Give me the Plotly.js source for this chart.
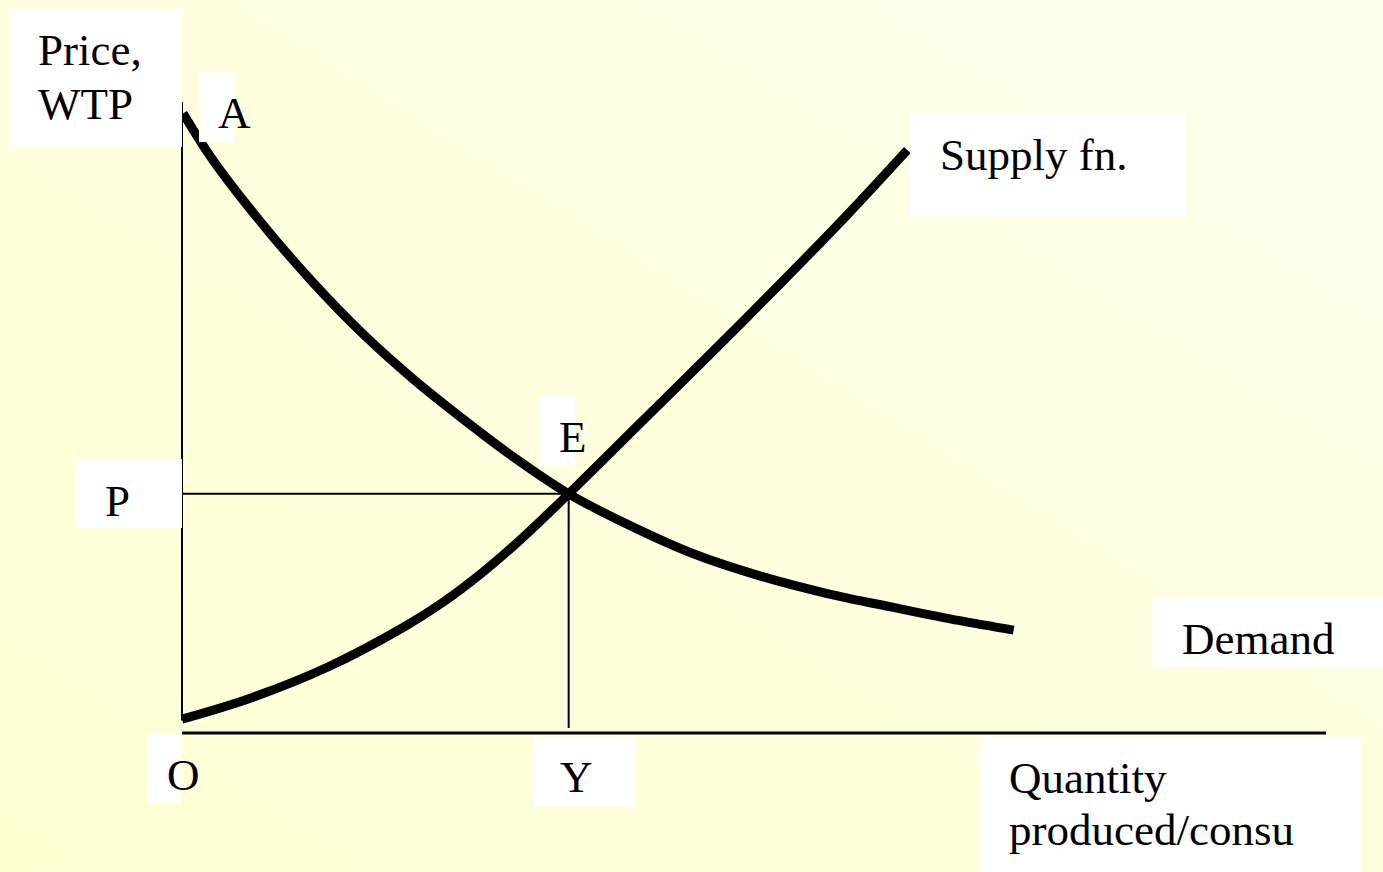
<!DOCTYPE html>
<html>
<head>
<meta charset="utf-8">
<script src="https://cdn.plot.ly/plotly-3.0.1.min.js"></script>
<style>
  html, body { margin: 0; padding: 0; width: 1383px; height: 872px; overflow: hidden; }
  body { background: linear-gradient(to top right, #FFFFD4 0%, #FFFFE0 55%, #FFFFEC 100%); }
  #chart { width: 1383px; height: 872px; }
</style>
</head>
<body>
<div id="chart"></div>
<script>
// ---- data (quantity, price) ----
const demandQ = [0.01, 0.27, 0.71, 1.15, 1.59, 2.02, 2.46, 2.90, 3.38, 3.89, 4.47, 5.05, 5.64, 6.22, 6.80, 7.27];
const demandP = [9.82, 9.08, 8.05, 7.13, 6.31, 5.61, 4.97, 4.37, 3.79, 3.31, 2.84, 2.49, 2.21, 1.99, 1.78, 1.63];
const supplyQ = [0.00, 0.61, 1.28, 1.94, 2.28, 2.61, 2.95, 3.38, 4.00, 4.62, 5.23, 5.84, 6.34];
const supplyP = [0.22, 0.56, 1.05, 1.68, 2.07, 2.52, 3.05, 3.79, 4.90, 6.01, 7.12, 8.26, 9.24];
const eqQ = 3.38, eqP = 3.79;          // equilibrium E
const axisMaxQ = 10, axisMaxP = 10;    // axis extents
const axisMinP = 0.2;                  // where price axis stops
const yLineBottom = 0.08;              // bottom of Y drop line

const W = 1383, H = 872;
const px = v => v / W;
const py = v => 1 - v / H;

const font = { family: '"Liberation Serif", "Times New Roman", serif', size: 45, color: '#000000' };

const traces = [
  { x: [0, 0], y: [axisMaxP, axisMinP], mode: 'lines', line: { color: '#000', width: 2 } },
  { x: [0, axisMaxQ], y: [0, 0], mode: 'lines', line: { color: '#000', width: 3 } },
  { x: [0, eqQ], y: [eqP, eqP], mode: 'lines', line: { color: '#000', width: 2 } },
  { x: [eqQ, eqQ], y: [eqP, yLineBottom], mode: 'lines', line: { color: '#000', width: 2 } },
  { x: demandQ, y: demandP, mode: 'lines', line: { color: '#000', width: 9, shape: 'spline', smoothing: 1 } },
  { x: supplyQ, y: supplyP, mode: 'lines', line: { color: '#000', width: 9, shape: 'spline', smoothing: 1 } }
];

// white label boxes (pixel extents)
const boxes = [
  [9, 9, 182, 147],      // Price, WTP
  [199, 72, 234, 142],   // A
  [910, 113, 1187, 217], // Supply fn.
  [540, 396, 575, 466],  // E
  [75, 459, 182, 528],   // P
  [1152, 598, 1383, 667],// Demand
  [147, 734, 182, 803],  // O
  [533, 737, 636, 807],  // Y
  [979, 737, 1361, 872]  // Quantity produced/consu
];
const shapes = boxes.map(b => ({
  type: 'rect', xref: 'paper', yref: 'paper', layer: 'above',
  x0: px(b[0]), x1: px(b[2]), y0: py(b[3]), y1: py(b[1]),
  fillcolor: '#FFFFFF', line: { width: 0 }
}));

// labels: [text, left x, baseline y]
const labels = [
  ['Price,', 37, 65],
  ['WTP', 37, 119],
  ['A', 217, 128],
  ['Supply fn.', 939, 170],
  ['E', 558, 452],
  ['P', 104, 516],
  ['Demand', 1181, 654],
  ['O', 166, 790],
  ['Y', 559, 792],
  ['Quantity', 1008, 793],
  ['produced/consu', 1008, 845]
];
const annotations = labels.map(l => ({
  text: l[0], xref: 'paper', yref: 'paper',
  x: px(l[1]), y: py(l[2] - 15),
  xanchor: 'left', yanchor: 'middle',
  showarrow: false, borderpad: 0, font: font
}));

const layout = {
  width: W, height: H,
  margin: { l: 0, r: 0, t: 0, b: 0, pad: 0 },
  paper_bgcolor: 'rgba(0,0,0,0)',
  plot_bgcolor: 'rgba(0,0,0,0)',
  showlegend: false,
  hovermode: false,
  xaxis: { range: [-182 / 114.4, (W - 182) / 114.4], visible: false, fixedrange: true },
  yaxis: { range: [-(H - 733) / 63.1, 733 / 63.1], visible: false, fixedrange: true },
  shapes: shapes,
  annotations: annotations
};

Plotly.newPlot('chart', traces, layout, { staticPlot: true, displayModeBar: false });
</script>
</body>
</html>
